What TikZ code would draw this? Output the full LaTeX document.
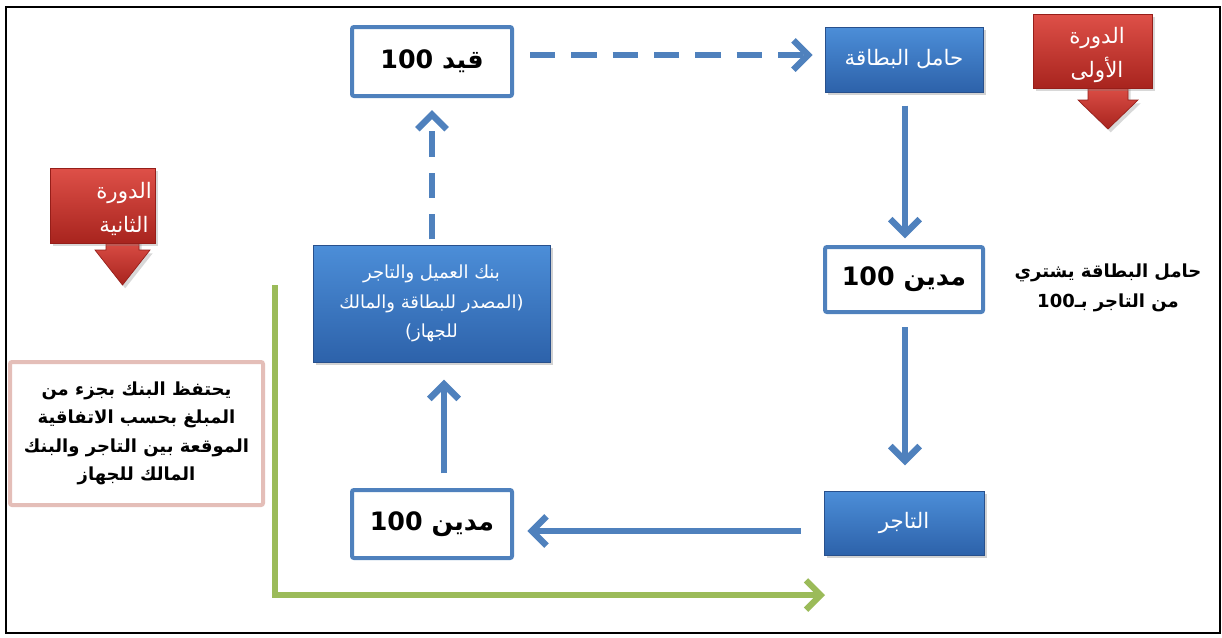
\documentclass[tikz,border=0pt]{standalone}
\usepackage{fontspec}
\usetikzlibrary{arrows.meta,shadows,calc}
\newfontfamily\arabicfont[Script=Arabic]{DejaVu Sans}
\TeXXeTstate=1
\newcommand\RL[1]{\beginR#1\endR}
\newcommand\LTR[1]{\beginL#1\endL}

\definecolor{lineblue}{RGB}{79,129,189}
\definecolor{bluetop}{RGB}{76,142,216}
\definecolor{bluebot}{RGB}{45,98,170}
\definecolor{blueedge}{RGB}{40,80,140}
\definecolor{redtop}{RGB}{222,80,72}
\definecolor{redbot}{RGB}{168,36,30}
\definecolor{rededge}{RGB}{150,30,25}
\definecolor{greenline}{RGB}{155,187,89}
\definecolor{noteedge}{RGB}{228,190,184}

\tikzset{
  bluebox/.style={rectangle, draw=blueedge, line width=0.6pt,
    top color=bluetop, bottom color=bluebot, text=white, inner sep=0pt,
    drop shadow={opacity=0.35, shadow xshift=2pt, shadow yshift=-2.5pt},
    font=\arabicfont\fontsize{16}{19}\selectfont, align=center},
  whitebox/.style={rectangle, rounded corners=1.5pt, draw=lineblue, line width=3pt,
    fill=white, inner sep=0pt,
    font=\arabicfont\bfseries\fontsize{19}{22}\selectfont},
  redbox/.style={rectangle, draw=rededge, line width=0.5pt,
    top color=redtop, bottom color=redbot, inner sep=0pt,
    drop shadow={opacity=0.3, shadow xshift=2pt, shadow yshift=-2.5pt}},
  redarrow/.style={draw=rededge, line width=0.5pt, top color=redtop, bottom color=redbot,
    drop shadow={opacity=0.3, shadow xshift=2pt, shadow yshift=-2.5pt}},
  redtext/.style={text=white, align=center,
    font=\arabicfont\fontsize{16}{25.5}\selectfont},
  flow/.style={draw=lineblue, line width=4.8pt,
    -{Straight Barb[length=11pt,width=22pt]}},
  dflow/.style={flow, dash pattern=on 19pt off 12pt},
  greenflow/.style={draw=greenline, line width=4.6pt,
    -{Straight Barb[length=11pt,width=22pt]}},
  notebox/.style={rectangle, rounded corners=1.5pt, draw=noteedge, line width=3pt,
    fill=white, inner sep=0pt, align=center,
    font=\arabicfont\bfseries\fontsize{13.5}{21.4}\selectfont},
  sidetext/.style={align=center,
    font=\arabicfont\bfseries\fontsize{13.5}{22.5}\selectfont}
}

\begin{document}
\begin{tikzpicture}[x=0.75pt,y=-0.75pt]
  % canvas and outer frame
  \useasboundingbox (0,0) rectangle (1222,637);
  \fill[white] (0,0) rectangle (1222,637);
  \draw[black, line width=1.5pt] (6,7) rectangle (1220,633);

  % lanes used by the connectors
  \coordinate (laneTop) at (0,55);
  \coordinate (laneR)   at (905,0);
  \coordinate (laneB)   at (0,531);
  \coordinate (laneLs)  at (444,0);
  \coordinate (laneLd)  at (432,0);

  % flow boxes
  \node[whitebox, minimum width=120pt, minimum height=51.75pt] (qayd) at (432,61.5)
    {\RL{قيد \LTR{100}}};
  \node[bluebox, minimum width=118.5pt, minimum height=48.75pt] (holder) at (904,59.5)
    {\RL{حامل البطاقة}};
  \node[whitebox, minimum width=118.5pt, minimum height=48.75pt] (madinR) at (904,279.5)
    {\RL{مدين \LTR{100}}};
  \node[bluebox, minimum width=120pt, minimum height=48pt] (tajer) at (904,523)
    {\RL{التاجر}};
  \node[whitebox, minimum width=120pt, minimum height=51pt] (madinL) at (432,524)
    {\RL{مدين \LTR{100}}};
  \node[bluebox, minimum width=177.75pt, minimum height=87.75pt,
        font=\arabicfont\fontsize{13.5}{22}\selectfont] (bank) at (431.5,303.5)
    {\RL{بنك العميل والتاجر}\\\RL{(المصدر للبطاقة والمالك}\\\RL{للجهاز)}};

  % side explanation
  \node[sidetext] (buys) at (1108,288)
    {\RL{حامل البطاقة يشتري}\\\RL{من التاجر بـ\LTR{100}}};

  % note on the bank's share
  \node[notebox, minimum width=189.75pt, minimum height=107.25pt] (note) at (136.5,433.5)
    {\RL{يحتفظ البنك بجزء من}\\\RL{المبلغ بحسب الاتفاقية}\\\RL{الموقعة بين التاجر والبنك}\\\RL{المالك للجهاز}};

  % first cycle marker
  \path[redarrow] (1088,85) -- (1128,85) -- (1128,100) -- (1138,100)
    -- (1108,129) -- (1078,100) -- (1088,100) -- cycle;
  \node[redbox, minimum width=89.25pt, minimum height=55.5pt] (red1) at (1092.5,51) {};
  \node[redtext] (red1txt) at (1097,55) {\RL{الدورة}\\\RL{الأولى}};

  % second cycle marker
  \path[redarrow] (106,238) -- (139,238) -- (139,250) -- (150,250)
    -- (122.5,285) -- (95,250) -- (106,250) -- cycle;
  \node[redbox, minimum width=78.75pt, minimum height=56.25pt] (red2) at (102.5,205.5) {};
  \node[redtext] (red2txt) at (124,208.5) {\RL{الدورة}\\\RL{الثانية}};

  % connectors
  \draw[dflow, shorten <=12pt, shorten >=9pt] (qayd.east |- laneTop) -- (holder.west |- laneTop);
  \draw[flow, shorten <=10pt, shorten >=5pt] (holder.south -| laneR) -- (madinR.north -| laneR);
  \draw[flow, shorten <=10pt, shorten >=19pt] (madinR.south -| laneR) -- (tajer.north -| laneR);
  \draw[flow, shorten <=17pt, shorten >=10pt] (tajer.west |- laneB) -- (madinL.east |- laneB);
  \draw[flow, shorten <=11pt, shorten >=13pt] (madinL.north -| laneLs) -- (bank.south -| laneLs);
  \draw[dflow, shorten <=4pt, shorten >=9pt] (bank.north -| laneLd) -- (qayd.south -| laneLd);

  % second cycle path
  \coordinate (gStart)  at (275,285);
  \coordinate (gCorner) at (275,595);
  \coordinate (gEnd)    at (825,595);
  \draw[greenflow] (gStart) -- (gCorner) -- (gEnd);
\end{tikzpicture}
\end{document}
